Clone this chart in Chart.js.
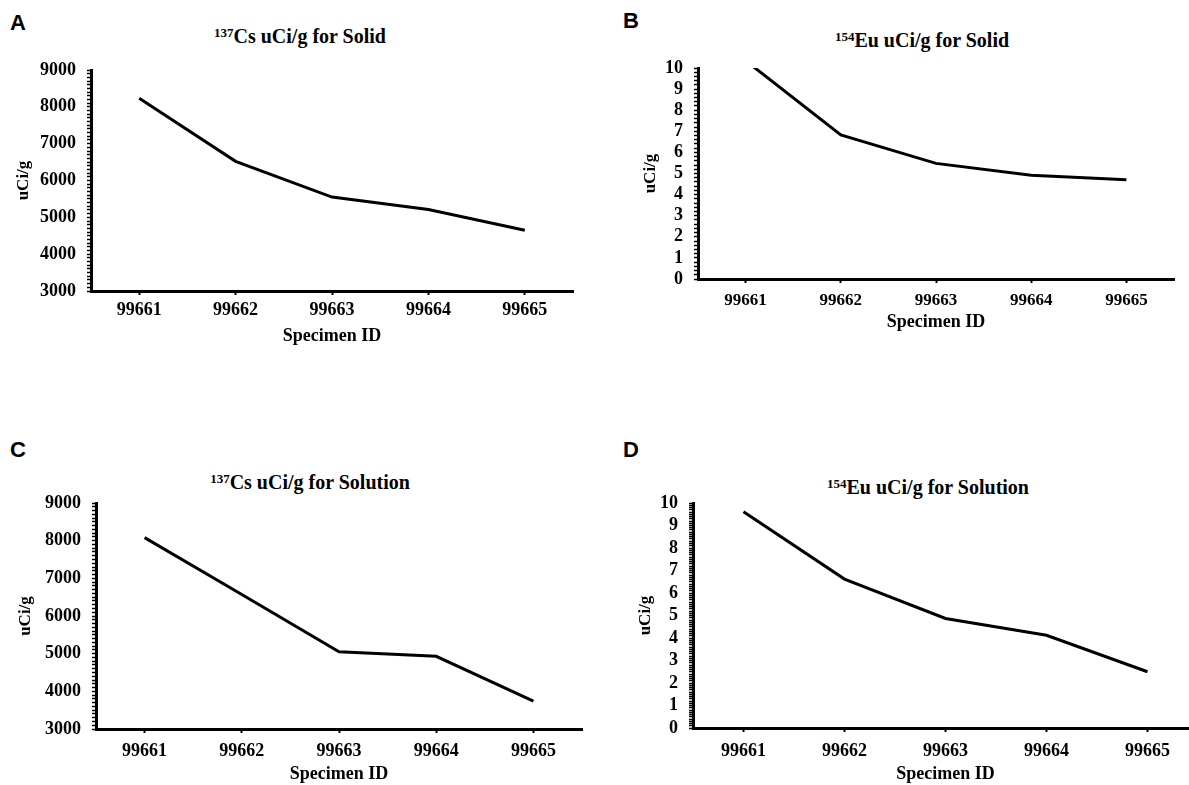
<!DOCTYPE html>
<html>
<head>
<meta charset="utf-8">
<script src="https://cdn.jsdelivr.net/npm/chart.js@4.4.1/dist/chart.umd.min.js"></script>
<style>
  html, body { margin: 0; padding: 0; background: #ffffff; width: 1189px; height: 785px; overflow: hidden; position: relative; }
  .panel { position: absolute; }
  .letter { position: absolute; font-family: "Liberation Sans", Arial, sans-serif; font-weight: bold; font-size: 22px; line-height: 22px; color: #000; }
  .ptitle { position: absolute; width: 340px; text-align: center; font-family: "Liberation Serif", "Times New Roman", serif; font-weight: bold; font-size: 20px; line-height: 22px; color: #000; white-space: nowrap; }
  .ptitle sup { font-size: 13px; vertical-align: 6px; line-height: 0; }
</style>
</head>
<body>
<div class="letter" style="left:10px;top:12px;">A</div>
<div class="letter" style="left:623px;top:10px;">B</div>
<div class="letter" style="left:10px;top:439px;">C</div>
<div class="letter" style="left:623px;top:439px;">D</div>

<div class="ptitle" style="left:130px;top:25px;"><sup>137</sup>Cs uCi/g for Solid</div>
<div class="ptitle" style="left:752px;top:29px;"><sup>154</sup>Eu uCi/g for Solid</div>
<div class="ptitle" style="left:140px;top:471px;"><sup>137</sup>Cs uCi/g for Solution</div>
<div class="ptitle" style="left:758px;top:476px;"><sup>154</sup>Eu uCi/g for Solution</div>

<canvas id="cA" class="panel" style="left:0px;top:0px;width:600px;height:351px;" width="600" height="351"></canvas>
<canvas id="cB" class="panel" style="left:600px;top:0px;width:589px;height:340px;" width="589" height="340"></canvas>
<canvas id="cC" class="panel" style="left:0px;top:440px;width:600px;height:345px;" width="600" height="345"></canvas>
<canvas id="cD" class="panel" style="left:600px;top:440px;width:610px;height:345px;" width="610" height="345"></canvas>

<script>
// ---- Data ----
const specimenIds = ['99661', '99662', '99663', '99664', '99665'];
const csSolid     = [8230, 6520, 5550, 5210, 4650];
const euSolid     = [10.35, 6.83, 5.48, 4.92, 4.70];
const csSolution  = [8080, 6570, 5050, 4930, 3740];
const euSolution  = [9.61, 6.62, 4.87, 4.12, 2.50];

const csRange = [3000, 9000];   // y-axis min / max for 137Cs panels
const csMajor = 1000;           // labelled tick step
const csMinor = 100;            // minor tick step
const euRange = [0, 10];        // y-axis min / max for 154Eu panels
const euMajor = 1;
const euMinorSolid = 0.2;
const euMinorSolution = 0.1;

const yTitle = 'uCi/g';
const xTitle = 'Specimen ID';

// ---- Chart builder ----
const SERIF = '"Liberation Serif", "Times New Roman", serif';

function makeChart(id, values, range, major, minor, g) {
  const ctx = document.getElementById(id);
  return new Chart(ctx, {
    type: 'line',
    data: {
      labels: specimenIds,
      datasets: [{
        data: values,
        borderColor: '#000000',
        borderWidth: 3,
        pointRadius: 0,
        pointHoverRadius: 0,
        tension: 0,
        fill: false
      }]
    },
    options: {
      responsive: false,
      animation: false,
      events: [],
      layout: { padding: { top: g.padTop, right: g.padRight, left: 0, bottom: 0 } },
      plugins: { legend: { display: false }, title: { display: false }, tooltip: { enabled: false } },
      scales: {
        x: {
          type: 'category',
          offset: true,
          grid: { display: true, drawOnChartArea: false, drawTicks: true, tickLength: 4, tickColor: '#000', tickWidth: 2 },
          border: { display: true, color: '#000', width: 3 },
          ticks: { color: '#000', padding: g.xTickPad, maxRotation: 0, autoSkip: false,
                   font: { family: SERIF, weight: 'bold', size: g.xTickSize } },
          title: { display: true, text: xTitle, color: '#000',
                   font: { family: SERIF, weight: 'bold', size: 18 },
                   padding: { top: 0, bottom: g.xTitlePadBottom } },
          afterFit: (s) => { s.height = g.xHeight; }
        },
        y: {
          type: 'linear',
          min: range[0],
          max: range[1],
          grid: { display: true, drawOnChartArea: false, drawTicks: true, tickLength: 4, tickColor: '#000', tickWidth: 1.5 },
          border: { display: true, color: '#000', width: 3 },
          ticks: {
            stepSize: minor,
            autoSkip: false,
            color: '#000',
            padding: 11,
            font: { family: SERIF, weight: 'bold', size: 18 },
            callback: function (v) {
              const k = Math.round(v / major);
              return Math.abs(v - k * major) < 1e-6 ? String(k * major) : '';
            }
          },
          title: { display: true, text: yTitle, color: '#000',
                   font: { family: SERIF, weight: 'bold', size: 17 },
                   padding: { top: g.yTitlePadTop, bottom: 0 } },
          afterFit: (s) => { s.width = g.yWidth; }
        }
      }
    }
  });
}

function build() {
  makeChart('cA', csSolid, csRange, csMajor, csMinor,
    { padTop: 70, padRight: 27, yWidth: 91, xHeight: 60, xTickPad: 5, xTickSize: 18, xTitlePadBottom: 4, yTitlePadTop: 13 });
  makeChart('cB', euSolid, euRange, euMajor, euMinorSolid,
    { padTop: 68, padRight: 15, yWidth: 98, xHeight: 61, xTickPad: 7, xTickSize: 17, xTitlePadBottom: 7, yTitlePadTop: 40 });
  makeChart('cC', csSolution, csRange, csMajor, csMinor,
    { padTop: 63, padRight: 18, yWidth: 96, xHeight: 56, xTickPad: 8, xTickSize: 18, xTitlePadBottom: 0, yTitlePadTop: 15 });
  makeChart('cD', euSolution, euRange, euMajor, euMinorSolution,
    { padTop: 63, padRight: 12, yWidth: 93, xHeight: 57, xTickPad: 9, xTickSize: 18, xTitlePadBottom: 0, yTitlePadTop: 35 });
}

if (document.fonts && document.fonts.load) {
  Promise.all([
    document.fonts.load('bold 18px "Liberation Serif"'),
    document.fonts.load('bold 22px "Liberation Sans"')
  ]).then(build, build);
} else {
  build();
}
</script>
</body>
</html>
